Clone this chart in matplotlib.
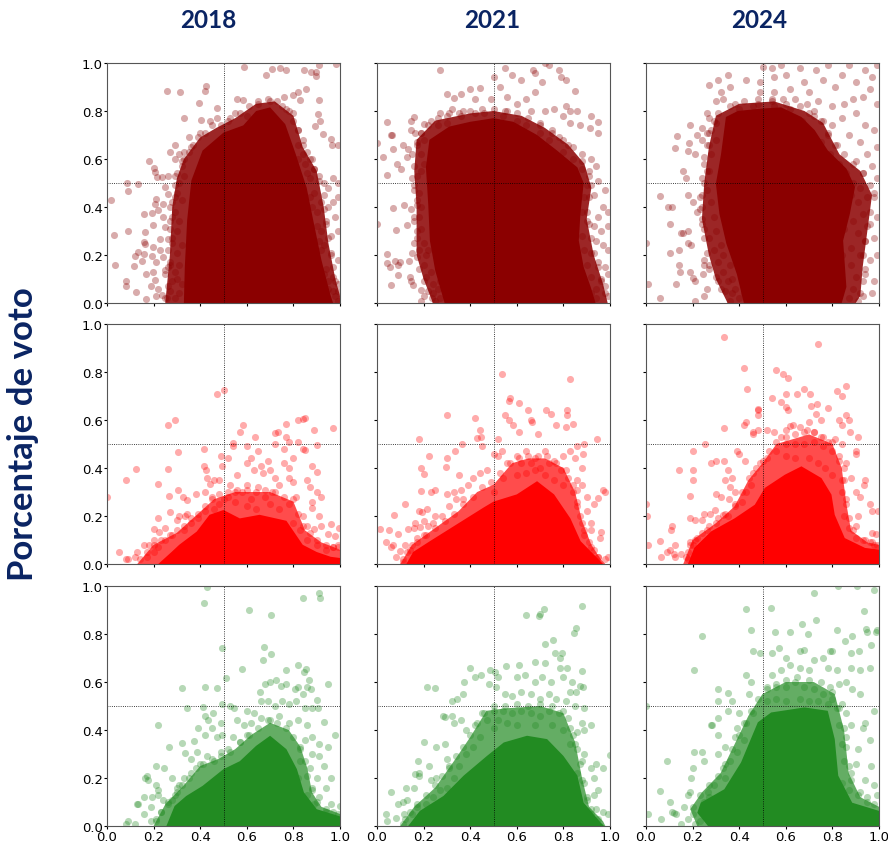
import numpy as np
from matplotlib import pyplot as plt

plt.rcParams['font.family'] = 'DejaVu Sans'

years = ['2018', '2021', '2024']
year_x = [208, 492, 759]
ticks = [0.0, 0.2, 0.4, 0.6, 0.8, 1.0]
colors = ['darkred', 'red', 'forestgreen']
dense_alpha = [0.85, 0.7, 0.7]
navy = '#0a2463'

# saturated zone of each panel, outline
core_a18 = [(.33,0),(.334,.15),(.344,.345),(.362,.51),(.41,.635),(.5,.71),(.585,.74),(.64,.80),(.70,.815),(.765,.745),(.81,.62),(.857,.48),(.885,.345),(.92,.18),(.957,.04),(.97,0)]
core_a21 = [(.29,0),(.25,.135),(.227,.26),(.22,.41),(.21,.565),(.225,.68),(.31,.735),(.40,.755),(.50,.77),(.585,.755),(.687,.70),(.773,.635),(.86,.565),(.887,.50),(.873,.372),(.866,.26),(.887,.15),(.917,.067),(.938,0)]
core_a24 = [(.42,0),(.39,.12),(.345,.247),(.315,.372),(.30,.497),(.322,.62),(.343,.775),(.394,.80),(.494,.81),(.58,.815),(.667,.775),(.724,.72),(.78,.636),(.86,.56),(.897,.483),(.875,.372),(.846,.26),(.86,.067),(.84,0)]
core_b18 = [(.22,0),(.277,.05),(.31,.08),(.385,.135),(.44,.205),(.5,.225),(.57,.19),(.655,.205),(.77,.18),(.84,.08),(.90,.05),(.96,.03),(1,.025),(1,0)]
core_b21 = [(.126,0),(.155,.05),(.227,.095),(.342,.165),(.457,.235),(.5,.26),(.60,.29),(.687,.345),(.76,.29),(.83,.19),(.874,.095),(.93,.04),(.97,0)]
core_b24 = [(.18,0),(.207,.067),(.28,.136),(.38,.19),(.467,.247),(.51,.317),(.596,.372),(.667,.407),(.753,.358),(.796,.289),(.81,.205),(.853,.108),(.94,.067),(1,.06),(1,0)]
core_c18 = [(.255,0),(.29,.083),(.34,.125),(.41,.167),(.5,.237),(.57,.27),(.64,.334),(.70,.376),(.77,.32),(.815,.237),(.845,.14),(.90,.07),(1,.04),(1,0)]
core_c21 = [(.134,0),(.184,.063),(.285,.125),(.372,.21),(.472,.292),(.544,.348),(.644,.376),(.73,.362),(.80,.292),(.86,.21),(.887,.097),(.96,.014),(.975,0)]
core_c24 = [(.266,0),(.22,.055),(.235,.097),(.336,.153),(.408,.265),(.48,.432),(.537,.473),(.68,.494),(.78,.48),(.81,.362),(.825,.21),(.885,.097),(1,.063),(1,0)]

# half dense zone around the saturated one
dense_a18 = [(.25,0),(.27,.2),(.28,.4),(.30,.52),(.33,.6),(.40,.69),(.47,.73),(.55,.77),(.64,.83),(.72,.84),(.80,.78),(.84,.65),(.90,.55),(.93,.40),(.95,.25),(.98,.10),(1,.03),(1,0)]
dense_a21 = [(.24,0),(.2,.1),(.17,.2),(.17,.4),(.16,.55),(.17,.68),(.25,.76),(.4,.79),(.5,.8),(.62,.78),(.72,.73),(.82,.66),(.89,.58),(.92,.48),(.9,.35),(.93,.2),(.97,.08),(.99,0)]
dense_a24 = [(.35,0),(.3,.1),(.27,.2),(.24,.35),(.25,.5),(.27,.65),(.3,.78),(.4,.83),(.55,.84),(.68,.8),(.76,.75),(.83,.62),(.92,.55),(.97,.45),(.95,.3),(.93,.15),(.92,.03),(.9,0)]
dense_b18 = [(.13,0),(.2,.08),(.3,.13),(.38,.2),(.46,.27),(.55,.3),(.62,.3),(.7,.3),(.8,.26),(.85,.14),(.92,.09),(1,.06),(1,0)]
dense_b21 = [(.1,0),(.15,.08),(.25,.15),(.35,.22),(.43,.3),(.5,.33),(.58,.42),(.65,.44),(.72,.44),(.8,.4),(.85,.3),(.88,.18),(.92,.08),(.96,.02),(.98,0)]
dense_b24 = [(.16,0),(.2,.1),(.3,.17),(.38,.24),(.44,.35),(.5,.42),(.56,.5),(.7,.54),(.8,.5),(.84,.4),(.86,.25),(.88,.14),(.95,.09),(1,.08),(1,0)]
dense_c18 = [(.2,0),(.25,.09),(.33,.17),(.4,.25),(.48,.28),(.55,.32),(.62,.38),(.7,.43),(.78,.4),(.83,.33),(.86,.24),(.88,.14),(.92,.08),(1,.05),(1,0)]
dense_c21 = [(.1,0),(.16,.08),(.25,.16),(.33,.27),(.4,.37),(.47,.48),(.55,.49),(.7,.5),(.8,.47),(.85,.35),(.88,.2),(.91,.08),(.97,.02),(.98,0)]
dense_c24 = [(.22,0),(.19,.07),(.24,.14),(.32,.22),(.38,.34),(.44,.46),(.5,.55),(.6,.6),(.72,.6),(.81,.55),(.85,.4),(.87,.22),(.92,.12),(1,.08),(1,0)]

# points along the rim of the dense zone
edge_a18 = [(.25,.02),(.26,.07),(.25,.12),(.27,.16),(.26,.22),(.28,.27),(.27,.31),(.28,.36),(.27,.4),(.29,.44),(.29,.49),(.3,.54),(.32,.59),(.33,.63),(.36,.65),(.39,.69),(.42,.71),(.45,.74),(.49,.74),(.53,.77),(.57,.79),(.61,.82),(.65,.84),(.69,.85),(.73,.84),(.77,.81),(.8,.79),(.82,.72),(.84,.66),(.87,.6),(.89,.56),(.91,.51),(.93,.45),(.93,.39),(.94,.33),(.95,.27),(.96,.21),(.97,.15),(.98,.09),(.99,.05)]
edge_a21 = [(.25,.01),(.22,.05),(.2,.09),(.18,.14),(.17,.19),(.16,.25),(.17,.3),(.16,.36),(.17,.41),(.16,.47),(.15,.52),(.16,.57),(.15,.62),(.17,.67),(.19,.71),(.22,.74),(.26,.77),(.3,.78),(.35,.79),(.4,.8),(.45,.81),(.5,.81),(.55,.8),(.6,.79),(.65,.77),(.7,.74),(.75,.71),(.8,.68),(.84,.65),(.88,.59),(.91,.55),(.92,.49),(.91,.44),(.9,.38),(.91,.33),(.92,.27),(.93,.21),(.95,.15),(.96,.09),(.98,.04)]
edge_a24 = [(.36,.01),(.32,.06),(.3,.11),(.27,.16),(.26,.21),(.25,.27),(.24,.33),(.23,.39),(.24,.45),(.25,.5),(.26,.55),(.25,.61),(.27,.66),(.27,.71),(.29,.76),(.31,.79),(.36,.82),(.42,.84),(.48,.85),(.54,.85),(.6,.83),(.66,.82),(.7,.79),(.75,.76),(.78,.71),(.81,.66),(.85,.62),(.89,.58),(.93,.54),(.96,.49),(.98,.44),(.96,.38),(.95,.32),(.94,.26),(.93,.2),(.94,.14),(.93,.09),(.92,.04),(.91,.01),(.72,.8)]
edge_b18 = [(.14,.02),(.17,.05),(.2,.08),(.23,.1),(.27,.12),(.3,.14),(.33,.16),(.36,.19),(.39,.21),(.42,.24),(.45,.27),(.48,.29),(.52,.3),(.56,.31),(.6,.31),(.64,.3),(.68,.31),(.72,.3),(.76,.28),(.8,.27),(.82,.21),(.84,.16),(.87,.13),(.9,.1),(.94,.08),(.97,.07),(.99,.07)]
edge_b21 = [(.11,.01),(.14,.06),(.17,.09),(.21,.12),(.25,.15),(.29,.18),(.33,.21),(.37,.25),(.41,.28),(.45,.32),(.49,.34),(.53,.38),(.57,.42),(.61,.44),(.65,.45),(.69,.45),(.73,.45),(.77,.42),(.81,.39),(.84,.33),(.86,.26),(.87,.2),(.89,.14),(.91,.09),(.93,.06),(.95,.03)]
edge_b24 = [(.17,.03),(.19,.08),(.22,.11),(.26,.14),(.3,.17),(.34,.21),(.38,.25),(.41,.3),(.44,.36),(.47,.4),(.5,.43),(.53,.47),(.56,.51),(.6,.53),(.64,.54),(.68,.55),(.72,.55),(.76,.53),(.8,.51),(.83,.43),(.85,.35),(.86,.27),(.87,.19),(.89,.14),(.93,.1),(.97,.09),(.99,.08)]
edge_c18 = [(.21,.02),(.23,.06),(.26,.1),(.29,.13),(.32,.17),(.35,.2),(.38,.24),(.41,.26),(.45,.28),(.49,.29),(.53,.31),(.57,.35),(.61,.38),(.65,.41),(.69,.44),(.73,.43),(.77,.41),(.8,.37),(.83,.33),(.85,.27),(.86,.21),(.88,.15),(.9,.1),(.94,.07),(.97,.06),(.99,.05)]
edge_c21 = [(.11,.01),(.14,.06),(.17,.09),(.21,.13),(.25,.17),(.28,.21),(.31,.25),(.34,.29),(.37,.33),(.4,.38),(.43,.43),(.46,.47),(.5,.5),(.55,.5),(.6,.51),(.65,.5),(.7,.51),(.75,.5),(.8,.48),(.83,.41),(.85,.34),(.87,.26),(.88,.19),(.9,.12),(.92,.07),(.95,.03)]
edge_c24 = [(.2,.05),(.2,.08),(.23,.13),(.27,.17),(.31,.21),(.34,.26),(.37,.32),(.4,.38),(.42,.43),(.45,.48),(.48,.53),(.52,.57),(.56,.59),(.6,.61),(.65,.62),(.7,.61),(.75,.6),(.8,.56),(.83,.49),(.85,.41),(.86,.33),(.87,.25),(.88,.19),(.91,.13),(.95,.1),(.98,.09)]

# individual points outside the saturated zone
pts_a18 = [(.016,.43),(.03,.285),(.036,.16),(.087,.50),(.09,.468),(.132,.494),(.09,.30),(.08,.09),(.082,.072),(.126,.047),(.116,.153),(.12,.197),(.133,.214),(.15,.174),(.159,.204),(.16,.254),(.165,.244),(.16,.372),(.165,.296),(.182,.593),(.202,.562),(.207,.544),(.215,.526),(.234,.525),(.26,.53),(.258,.885),(.314,.878),(.425,.906),(.42,.885),(.395,.832),(.332,.77),(.403,.762),(.473,.812),(.56,.851),(.585,.846),(.589,.982),(.682,.951),(.709,.974),(.744,.978),(.77,.971),(.844,.971),(.875,.962),(.898,.962),(.898,.946),(.911,.99),(.981,.996),(.852,.89),(.818,.878),(.80,.865),(.828,.844),(.76,.857),(.911,.844),(.905,.786),(.914,.758),(.892,.739),(.925,.703),(.96,.685),(.967,.657),(.993,.657),
(.169,.018),(.166,.122),(.198,.233),(.195,.194),(.212,.17),(.198,.129),(.205,.094),(.188,.069),(.219,.06),(.212,.028),(.234,.032),(.258,.022),(.248,.136),(.263,.15),(.241,.192),(.226,.219),(.263,.268),(.226,.268),(.241,.414),(.212,.435),(.205,.414),(.195,.376),(.219,.386),(.241,.358),(.198,.324),(.248,.317),(.263,.455),(.248,.483),
(.27,.05),(.28,.09),(.29,.13),(.27,.17),(.30,.21),(.28,.25),(.30,.30),(.27,.34),(.29,.38),(.28,.42),(.30,.46),(.31,.50),(.29,.53),(.32,.57),(.33,.60),(.35,.63),(.37,.66),(.30,.10),(.31,.16),(.31,.04),(.29,.02),(.32,.08),(.32,.24),(.31,.34),(.32,.43),(.33,.53),(.29,.60),(.31,.62),(.27,.63),(.29,.66),(.35,.69),(.40,.71),(.44,.76),(.47,.77),(.52,.76),(.55,.79),(.60,.78),(.65,.83),(.70,.84),(.75,.82),(.78,.80),(.80,.76),(.82,.72),(.84,.68),(.86,.63),(.88,.60),(.89,.56),(.91,.53),(.93,.50),(.95,.48),(.97,.52),(.99,.50),
(.82,.66),(.85,.58),(.87,.52),(.89,.46),(.92,.42),(.90,.38),(.94,.34),(.92,.30),(.96,.28),(.98,.36),(.99,.30),(.93,.24),(.96,.20),(.99,.18),(.94,.14),(.97,.11),(.99,.08),(.95,.06),(.98,.03),(.99,.01),(.87,.44),(.88,.40),(.90,.32),(.91,.26),(.92,.22),(.93,.12),(.95,.09),(.97,.05),(.86,.54),(.84,.62),(.82,.60),(.83,.50),(.95,.40),(.97,.42),(.99,.44)]
pts_a21 = [(.043,.755),(.06,.70),(.064,.70),(.0,.665),(.027,.61),(.069,.64),(.111,.66),(.134,.64),(.13,.61),(.085,.58),(.105,.56),(.044,.535),(.067,.395),(.115,.41),(.144,.39),(.0,.33),(.08,.305),(.13,.325),(.042,.205),(.041,.165),(.055,.15),(.09,.115),(.058,.075),(.1,.17),(.077,.175),(.088,.16),(.14,.11),(.15,.21),(.137,.175),(.145,.09),(.155,.075),(.19,.055),(.2,.03),(.19,.01),(.235,.02),(.27,.02),
(.161,.71),(.147,.76),(.16,.775),(.147,.72),(.187,.71),(.2,.745),(.23,.76),(.27,.79),(.31,.79),(.32,.81),(.33,.855),(.30,.87),(.36,.87),(.40,.89),(.42,.85),(.44,.895),(.49,.85),(.5,.94),(.53,.9),(.56,.86),(.37,.80),(.27,.97),(.55,.98),(.58,.95),(.62,.93),(.67,.97),(.68,.96),(.72,1.0),(.74,.99),(.78,.97),(.79,.94),(.81,.93),(.71,.92),(.85,.885),(.68,.88),(.64,.85),(.60,.83),(.56,.8),(.66,.8),(.72,.8),(.76,.81),(.81,.82),(.83,.8),(.86,.8),(.92,.78),(.95,.755),(.95,.71),(.915,.73),(.87,.74),(.83,.75),(.80,.78),(.70,.75),(.75,.72),(.78,.69),(.82,.66),(.88,.62),(.92,.60),(.94,.57),(.91,.53),(.95,.51),(.98,.47),(.93,.45),(.97,.40),(.99,.38),(.95,.36),(.93,.32),(.96,.30),(.99,.32),(.94,.26),(.97,.24),(.99,.22),(.92,.21),(.95,.17),(.98,.15),(.99,.12),(.96,.10),(.94,.06),(.98,.07),(.99,.03),(.94,.02),
(.17,.66),(.19,.62),(.2,.58),(.19,.55),(.17,.53),(.16,.49),(.18,.46),(.17,.43),(.19,.40),(.18,.36),(.16,.34),(.19,.31),(.17,.27),(.2,.25),(.18,.22),(.21,.20),(.2,.16),(.23,.13),(.21,.11),(.24,.08),(.26,.06),(.24,.04),(.27,.09),(.22,.22),(.2,.68),(.26,.74),(.3,.75),(.36,.78),(.42,.79),(.46,.79),(.54,.78),(.6,.76),(.64,.74),(.7,.71),(.74,.68),(.8,.63),(.84,.6),(.88,.56),(.9,.49),(.89,.44),(.88,.38),(.9,.34),(.88,.28),(.89,.22),(.9,.16),(.92,.11),(.92,.04)]
pts_a24 = [(.0,.25),(.01,.08),(.06,.02),(.21,.01),(.13,.08),(.145,.13),(.14,.16),(.105,.21),(.14,.22),(.11,.40),(.095,.40),(.06,.445),(.105,.33),(.15,.29),(.16,.29),(.18,.30),(.18,.25),(.195,.24),(.19,.13),(.21,.09),(.26,.06),(.25,.03),(.2,.105),(.245,.12),(.25,.16),(.27,.14),(.31,.09),(.34,.05),(.37,.04),(.42,.04),
(.125,.645),(.135,.695),(.18,.635),(.185,.665),(.21,.62),(.16,.55),(.17,.52),(.18,.45),(.2,.42),(.22,.38),(.24,.35),(.25,.31),(.27,.27),(.29,.22),(.31,.17),(.33,.13),(.35,.09),(.37,.1),(.25,.18),(.24,.4),(.23,.44),(.26,.47),(.24,.52),(.27,.55),(.25,.58),(.28,.62),(.26,.66),(.3,.68),(.28,.72),(.3,.75),(.27,.77),(.26,.71),(.24,.73),(.24,.68),(.22,.7),(.19,.74),(.26,.79),(.3,.84),(.33,.85),(.38,.83),(.32,.88),(.27,.91),(.31,.93),(.36,.9),(.35,.95),(.43,.93),(.49,.88),(.49,.92),(.5,.985),(.54,.98),(.55,.94),(.55,.88),(.58,.99),(.6,.95),(.62,.89),(.66,.98),(.68,.92),(.7,.88),(.73,.97),(.76,.93),(.78,.99),(.81,.9),(.84,.95),(.87,.99),(.9,.92),(.94,.97),(.97,.94),(.99,.99),(.93,.86),(.99,.83),(.96,.89),(.89,.85),(.85,.83),(.8,.82),(.74,.84),(.69,.83),(.64,.85),(.59,.85),(.54,.84),(.48,.83),(.72,.78),(.76,.76),(.8,.74),(.84,.77),(.9,.79),(.94,.74),(.98,.72),(.87,.7),(.92,.67),(.82,.66),(.78,.7),(.95,.62),(.99,.65),(.9,.59),(.93,.54),(.97,.57),(.99,.52),(.92,.48),(.95,.44),(.98,.46),(.91,.42),(.93,.37),(.96,.33),(.99,.36),(.89,.34),(.91,.29),(.94,.26),(.98,.27),(.88,.23),(.92,.2),(.96,.18),(.99,.2),(.88,.16),(.9,.11),(.94,.12),(.98,.09),(.89,.06),(.93,.03),(.97,.04),(.87,.02),
(.28,.42),(.29,.36),(.3,.3),(.32,.24),(.33,.2),(.36,.16),(.38,.06),(.4,.02),(.83,.1),(.82,.15),(.84,.2),(.85,.31),(.86,.4),(.88,.45),(.89,.5),(.86,.54),(.83,.58),(.79,.62),(.75,.67),(.71,.71),(.67,.76),(.62,.81),(.55,.82),(.46,.82),(.4,.81)]
pts_b18 = [(.0,.28),(.08,.35),(.125,.395),(.05,.05),(.08,.02),(.09,.02),(.12,.03),(.13,.05),(.16,.08),(.18,.08),(.2,.1),(.2,.145),(.225,.135),(.25,.15),(.22,.19),(.27,.215),(.3,.185),(.31,.2),(.335,.2),(.345,.21),(.22,.335),(.265,.285),(.26,.395),(.305,.31),(.325,.28),(.345,.265),(.38,.29),(.26,.58),(.29,.6),(.305,.465),(.47,.71),(.5,.725),(.415,.48),(.415,.41),(.425,.39),(.43,.36),(.44,.335),(.46,.35),(.48,.35),(.495,.41),(.49,.45),(.52,.44),(.54,.505),(.54,.49),(.57,.55),(.585,.58),(.6,.49),(.635,.53),(.62,.44),(.6,.42),(.6,.33),(.65,.47),(.67,.38),(.69,.43),(.72,.5),(.72,.545),(.735,.55),(.76,.48),(.77,.585),(.77,.53),(.78,.51),(.82,.6),(.84,.605),(.85,.61),(.82,.51),(.84,.48),(.85,.475),(.89,.56),(.9,.495),(.97,.565),(.88,.41),(.9,.385),(.86,.35),(.87,.32),(.9,.3),(.92,.28),(.88,.26),(.88,.235),(.91,.2),(.92,.16),(.96,.165),(.995,.15),(.95,.125),(.98,.115),(.89,.145),(.86,.16),(.84,.2),(.42,.3),(.45,.28),(.48,.25),(.52,.28),(.55,.26),(.58,.3),(.62,.27),(.65,.32),(.68,.28),(.71,.3),(.74,.33),(.78,.36),(.8,.34),(.81,.28),(.78,.25),(.74,.23),(.7,.25),(.64,.23),(.6,.24),(.55,.3),(.5,.27),(.46,.23),(.42,.22),(.39,.19),(.36,.17),(.33,.14),(.28,.12),(.25,.1),(.22,.07),(.2,.05),(.17,.03),(.83,.14),(.8,.17),(.86,.1),(.9,.08),(.94,.06),(.97,.07),(.99,.08),(.72,.36),(.76,.42),(.7,.39),(.66,.41),(.63,.39),(.78,.4),(.8,.44),(.56,.37),(.53,.33)]
pts_b21 = [(.015,.145),(.05,.14),(.04,.09),(.06,.07),(.07,.08),(.09,.125),(.08,.03),(.1,.055),(.12,.08),(.16,.15),(.075,.205),(.135,.145),(.165,.17),(.185,.155),(.12,.25),(.18,.22),(.2,.18),(.19,.305),(.195,.215),(.215,.23),(.23,.3),(.25,.31),(.3,.29),(.33,.3),(.36,.31),(.35,.37),(.2,.375),(.19,.4),(.225,.45),(.295,.405),(.3,.44),(.335,.47),(.365,.5),(.18,.52),(.3,.62),(.42,.61),(.44,.56),(.445,.53),(.43,.525),(.45,.49),(.5,.46),(.52,.45),(.52,.52),(.535,.47),(.535,.79),(.57,.69),(.565,.68),(.55,.62),(.565,.6),(.585,.58),(.61,.55),(.61,.67),(.65,.64),(.66,.6),(.665,.59),(.69,.54),(.725,.64),(.745,.625),(.77,.58),(.81,.57),(.815,.64),(.815,.62),(.83,.77),(.84,.585),(.86,.49),(.885,.46),(.89,.5),(.945,.52),(.98,.3),(.97,.31),(.95,.275),(.93,.25),(.92,.14),(.96,.135),(.955,.11),(.92,.17),(.9,.22),(.9,.28),(.88,.33),(.86,.35),(.88,.4),(.85,.44),(.83,.47),(.8,.45),(.76,.43),(.72,.47),(.68,.44),(.64,.47),(.6,.45),(.56,.42),(.54,.36),(.5,.3),(.47,.39),(.44,.38),(.41,.36),(.39,.33),(.37,.27),(.34,.27),(.31,.24),(.28,.2),(.25,.2),(.24,.17),(.22,.16),(.2,.12),(.17,.11),(.15,.08),(.13,.05),(.11,.02),(.6,.37),(.64,.38),(.68,.39),(.72,.37),(.76,.35),(.8,.33),(.84,.3),(.86,.24),(.88,.17),(.89,.12),(.92,.07),(.95,.03),(.98,.02),(.99,.03),(.62,.42),(.66,.42),(.7,.4),(.74,.42),(.79,.39),(.82,.36),(.86,.31)]
pts_b24 = [(.0,.25),(.005,.2),(.01,.08),(.06,.095),(.065,.03),(.09,.05),(.105,.06),(.12,.04),(.125,.03),(.15,.04),(.125,.08),(.108,.14),(.11,.16),(.19,.19),(.21,.185),(.24,.185),(.275,.21),(.25,.21),(.295,.225),(.33,.205),(.14,.39),(.2,.47),(.2,.39),(.255,.5),(.28,.42),(.3,.43),(.335,.43),(.35,.39),(.34,.35),(.36,.32),(.38,.3),(.355,.27),(.32,.28),(.3,.29),(.19,.285),(.2,.35),(.37,.36),(.4,.46),(.425,.43),(.39,.47),(.335,.565),(.42,.58),(.43,.59),(.48,.64),(.48,.645),(.48,.62),(.46,.55),(.46,.54),(.48,.56),(.335,.945),(.42,.815),(.435,.73),(.56,.81),(.59,.79),(.61,.775),(.6,.71),(.65,.71),(.54,.69),(.58,.675),(.6,.655),(.61,.64),(.62,.575),(.68,.73),(.705,.71),(.74,.915),(.71,.66),(.735,.665),(.78,.65),(.73,.625),(.75,.6),(.7,.59),(.82,.72),(.84,.7),(.86,.74),(.83,.6),(.87,.6),(.86,.62),(.84,.58),(.875,.55),(.9,.47),(.9,.46),(.91,.53),(.86,.42),(.88,.36),(.935,.33),(.94,.35),(.9,.3),(.92,.28),(.96,.25),(.97,.22),(.995,.22),(.91,.2),(.9,.16),(.97,.13),(.985,.125),(.96,.09),(.52,.56),(.55,.55),(.58,.53),(.6,.56),(.63,.58),(.66,.57),(.69,.56),(.72,.55),(.75,.53),(.78,.51),(.81,.52),(.84,.5),(.6,.5),(.64,.5),(.68,.5),(.72,.51),(.76,.49),(.8,.47),(.83,.45),(.85,.4),(.84,.35),(.84,.3),(.86,.25),(.85,.2),(.87,.15),(.9,.11),(.94,.1),(.98,.08),(.56,.47),(.52,.44),(.49,.42),(.46,.38),(.45,.33),(.43,.3),(.41,.26),(.38,.24),(.35,.2),(.31,.19),(.27,.16),(.24,.13),(.21,.1),(.19,.09),(.18,.05),(.18,.02),(.2,.08),(.6,.45),(.64,.44),(.7,.44),(.74,.42),(.77,.4),(.8,.37)]
pts_c18 = [(.08,.01),(.09,.02),(.12,.01),(.13,.09),(.135,.09),(.16,.05),(.16,.12),(.195,.12),(.19,.08),(.22,.15),(.22,.13),(.24,.11),(.165,.2),(.175,.19),(.17,.21),(.245,.24),(.21,.17),(.28,.2),(.31,.17),(.3,.16),(.21,.25),(.22,.42),(.265,.33),(.32,.345),(.335,.305),(.36,.28),(.375,.355),(.385,.31),(.39,.41),(.42,.38),(.345,.49),(.32,.575),(.41,.495),(.42,.58),(.47,.575),(.42,.46),(.435,.44),(.455,.47),(.45,.41),(.47,.37),(.495,.38),(.49,.43),(.495,.74),(.495,.51),(.51,.615),(.53,.5),(.545,.49),(.415,.93),(.43,.995),(.58,.655),(.61,.9),(.705,.88),(.675,.745),(.67,.69),(.705,.715),(.77,.65),(.82,.67),(.855,.655),(.845,.64),(.865,.61),(.86,.58),(.95,.59),(.655,.56),(.68,.59),(.7,.6),(.725,.61),(.745,.585),(.77,.59),(.805,.57),(.82,.58),(.875,.57),(.84,.55),(.9,.525),(.905,.49),(.93,.435),(.98,.38),(.91,.97),(.915,.95),(.84,.95),(.66,.52),(.69,.52),(.72,.5),(.75,.52),(.78,.51),(.81,.52),(.85,.49),(.88,.49),(.6,.48),(.63,.47),(.56,.44),(.59,.42),(.62,.43),(.66,.45),(.7,.44),(.74,.46),(.78,.43),(.82,.44),(.86,.42),(.88,.37),(.91,.34),(.85,.36),(.83,.32),(.88,.3),(.91,.29),(.95,.33),(.87,.24),(.93,.25),(.96,.2),(.9,.2),(.94,.16),(.88,.16),(.91,.12),(.96,.09),(1.0,.085),(.54,.37),(.57,.35),(.6,.38),(.52,.32),(.49,.31),(.46,.27),(.43,.29),(.4,.26),(.36,.22),(.33,.2),(.3,.14),(.28,.11),(.26,.09),(.23,.06),(.21,.03),(.19,.02),(.83,.27),(.82,.2),(.86,.13),(.89,.09),(.94,.06)]
pts_c21 = [(.06,.14),(.04,.05),(.045,.02),(.08,.035),(.09,.09),(.11,.1),(.115,.05),(.13,.11),(.125,.16),(.16,.16),(.165,.215),(.18,.21),(.18,.22),(.175,.27),(.225,.25),(.23,.19),(.255,.2),(.2,.35),(.255,.33),(.29,.34),(.3,.28),(.31,.24),(.215,.58),(.25,.575),(.285,.46),(.29,.455),(.32,.52),(.32,.46),(.33,.43),(.36,.44),(.375,.6),(.37,.55),(.345,.53),(.4,.66),(.42,.62),(.445,.63),(.485,.65),(.505,.64),(.555,.665),(.61,.67),(.52,.62),(.48,.59),(.51,.58),(.6,.62),(.64,.88),(.695,.875),(.7,.885),(.715,.905),(.88,.915),(.845,.805),(.855,.825),(.72,.76),(.755,.775),(.765,.72),(.785,.7),(.795,.72),(.68,.685),(.72,.68),(.785,.66),(.815,.66),(.88,.645),(.635,.63),(.68,.6),(.71,.62),(.745,.6),(.8,.62),(.835,.6),(.87,.585),(.885,.58),(.83,.56),(.855,.56),(.55,.55),(.58,.54),(.62,.56),(.66,.55),(.7,.53),(.74,.55),(.77,.53),(.81,.52),(.85,.5),(.89,.49),(.88,.43),(.92,.42),(.89,.4),(.86,.39),(.89,.3),(1.0,.295),(.94,.26),(.92,.24),(.97,.24),(.93,.2),(.95,.15),(.93,.13),(.97,.06),(.99,.05),(.94,.07),(.5,.48),(.54,.48),(.58,.47),(.62,.48),(.66,.47),(.7,.46),(.74,.48),(.78,.47),(.82,.45),(.84,.38),(.86,.32),(.88,.27),(.86,.22),(.89,.18),(.9,.11),(.92,.05),(.47,.44),(.5,.41),(.44,.37),(.41,.33),(.38,.3),(.35,.25),(.33,.2),(.3,.16),(.27,.15),(.24,.12),(.21,.09),(.17,.08),(.15,.05),(.12,.03),(.38,.4),(.42,.42),(.45,.47),(.52,.44),(.56,.43),(.6,.42),(.68,.42),(.75,.42),(.8,.4),(.83,.34)]
pts_c24 = [(.0,.5),(.01,.05),(.065,.03),(.06,.145),(.09,.27),(.105,.1),(.11,.06),(.12,.055),(.13,.05),(.15,.01),(.18,.03),(.165,.08),(.18,.13),(.19,.14),(.195,.2),(.2,.24),(.205,.31),(.205,.65),(.24,.79),(.24,.31),(.25,.27),(.265,.14),(.28,.42),(.285,.42),(.31,.38),(.31,.45),(.31,.57),(.31,.52),(.35,.555),(.37,.52),(.35,.48),(.31,.3),(.33,.24),(.34,.33),(.38,.37),(.39,.41),(.4,.47),(.44,.55),(.45,.6),(.43,.63),(.46,.73),(.45,.815),(.43,.905),(.49,.72),(.535,.91),(.555,.81),(.62,.81),(.54,.72),(.57,.74),(.6,.7),(.66,.73),(.68,.735),(.67,.84),(.695,.8),(.73,.86),(.72,.97),(.825,1.0),(.905,1.0),(.98,.985),(.935,.895),(.82,.815),(.855,.77),(.885,.79),(.945,.82),(.95,.81),(.985,.81),(.99,.815),(.965,.755),(.915,.73),(.88,.72),(.8,.73),(.79,.73),(.76,.7),(.72,.69),(.7,.65),(.66,.66),(.62,.67),(.58,.65),(.54,.63),(.78,.66),(.82,.65),(.88,.66),(.92,.65),(.96,.66),(.86,.6),(.885,.57),(.92,.55),(.83,.59),(.79,.58),(.52,.58),(.56,.58),(.6,.58),(.64,.6),(.68,.58),(.72,.57),(.76,.55),(.8,.53),(.84,.51),(.86,.47),(.98,.48),(.88,.42),(.94,.43),(.93,.41),(.86,.37),(.91,.32),(.96,.36),(.965,.25),(.9,.26),(.88,.22),(.94,.19),(.98,.17),(.92,.14),(.95,.12),(.99,.13),(.87,.15),(.85,.27),(.84,.18),(.52,.52),(.56,.53),(.6,.52),(.66,.53),(.7,.52),(.74,.52),(.78,.51),(.82,.49),(.83,.42),(.84,.34),(.46,.47),(.43,.43),(.42,.36),(.39,.31),(.36,.27),(.34,.2),(.29,.17),(.27,.12),(.25,.1),(.23,.02),(.21,.01)]

cores = [[core_a18, core_a21, core_a24], [core_b18, core_b21, core_b24], [core_c18, core_c21, core_c24]]
denses = [[dense_a18, dense_a21, dense_a24], [dense_b18, dense_b21, dense_b24], [dense_c18, dense_c21, dense_c24]]
edges = [[edge_a18, edge_a21, edge_a24], [edge_b18, edge_b21, edge_b24], [edge_c18, edge_c21, edge_c24]]
pts = [[pts_a18, pts_a21, pts_a24], [pts_b18, pts_b21, pts_b24], [pts_c18, pts_c21, pts_c24]]

fig = plt.figure(figsize=(8.88, 8.45), dpi=100)
lefts = [107, 377, 646]
tops = [64, 325, 587]
W, H = 888, 845

for r in range(3):
    for c in range(3):
        ax = fig.add_axes([lefts[c] / W, 1 - (tops[r] + 240) / H, 233 / W, 240 / H])
        dense = np.array(denses[r][c])
        ax.fill(dense[:, 0], dense[:, 1], color=colors[r], alpha=dense_alpha[r], lw=0)
        core = np.array(cores[r][c])
        ax.fill(core[:, 0], core[:, 1], color=colors[r], lw=0)
        p = np.array(pts[r][c] + edges[r][c])
        ax.scatter(p[:, 0], p[:, 1], s=26, color=colors[r], alpha=0.33, linewidths=0)
        ax.axhline(0.5, color='black', ls=':', lw=0.6)
        ax.axvline(0.5, color='black', ls=':', lw=0.6)
        ax.set_xlim(0, 1)
        ax.set_ylim(0, 1)
        ax.set_xticks(ticks)
        ax.set_yticks(ticks)
        ax.tick_params(labelsize=9.5, length=2.5, pad=0.5, labelbottom=r == 2, labelleft=c == 0)
        for s in ax.spines.values():
            s.set_color('#555555')

for c in range(3):
    fig.text(year_x[c] / W, 1 - 20 / H, years[c], ha='center', va='center',
             fontsize=17.5, fontweight='bold', family='Lato', color=navy)

fig.text(23 / W, 1 - 434 / H, 'Porcentaje de voto', rotation=90, ha='center', va='center',
         fontsize=25, fontweight='bold', family='Lato', color=navy)

fig.savefig('out.png', dpi=100)
